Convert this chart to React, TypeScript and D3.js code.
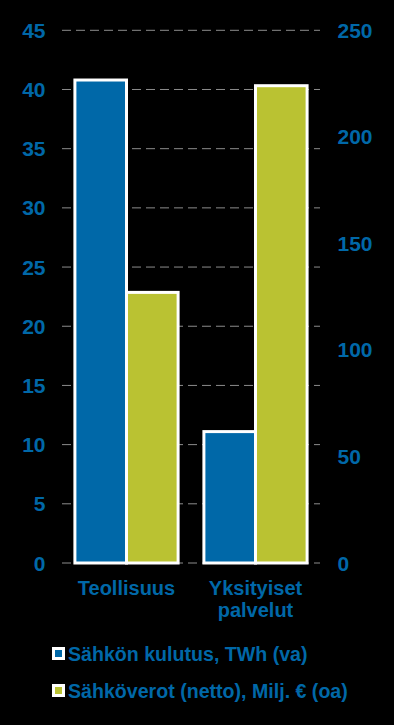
import * as d3 from 'd3';
import React, { useEffect, useRef } from 'react';

const categories = ['Teollisuus', 'Yksityiset palvelut'];
const categoryLines = [['Teollisuus'], ['Yksityiset', 'palvelut']];
const seriesNames = ['Sähkön kulutus, TWh (va)', 'Sähköverot (netto), Milj. € (oa)'];
const consumption = [40.8, 11.1]; // TWh, left axis
const taxes = [127, 224]; // Milj. €, right axis
const leftTicks = [0, 5, 10, 15, 20, 25, 30, 35, 40, 45];
const rightTicks = [0, 50, 100, 150, 200, 250];

const BLUE = '#0068a8';
const GREEN = '#bac232';

function App() {
  const node = useRef<SVGSVGElement | null>(null);

  useEffect(() => {
    const width = 394;
    const height = 725;
    const left = 62;
    const right = 320;
    const top = 30.3;
    const bottom = 563;
    const font = 'Liberation Sans, Arial, sans-serif';

    const svg = d3.select(node.current);
    svg.selectAll('*').remove();
    svg.attr('width', width).attr('height', height);

    svg.append('rect').attr('width', width).attr('height', height).attr('fill', '#000');

    const yLeft = d3.scaleLinear().domain([0, 45]).range([bottom, top]);
    const yRight = d3.scaleLinear().domain([0, 250]).range([bottom, top]);
    const x0 = d3.scaleBand().domain(categories).range([left, right]).paddingInner(0.2).paddingOuter(0.1);
    const x1 = d3.scaleBand().domain(['a', 'b']).range([0, x0.bandwidth()]);

    // gridlines
    svg
      .append('g')
      .selectAll('line')
      .data(leftTicks)
      .enter()
      .append('line')
      .attr('x1', left)
      .attr('x2', right)
      .attr('y1', (d) => yLeft(d))
      .attr('y2', (d) => yLeft(d))
      .attr('stroke', '#8c8c8c')
      .attr('stroke-width', 1)
      .attr('stroke-dasharray', '9,5');

    // bars
    const groups = svg
      .append('g')
      .selectAll('g')
      .data(categories)
      .enter()
      .append('g')
      .attr('transform', (d) => 'translate(' + x0(d) + ',0)');

    groups
      .append('rect')
      .attr('x', x1('a') as number)
      .attr('width', x1.bandwidth())
      .attr('y', (d, i) => yLeft(consumption[i]))
      .attr('height', (d, i) => bottom - yLeft(consumption[i]))
      .attr('fill', BLUE)
      .attr('stroke', '#fff')
      .attr('stroke-width', 3);

    groups
      .append('rect')
      .attr('x', x1('b') as number)
      .attr('width', x1.bandwidth())
      .attr('y', (d, i) => yRight(taxes[i]))
      .attr('height', (d, i) => bottom - yRight(taxes[i]))
      .attr('fill', GREEN)
      .attr('stroke', '#fff')
      .attr('stroke-width', 3);

    // left axis labels
    svg
      .append('g')
      .selectAll('text')
      .data(leftTicks)
      .enter()
      .append('text')
      .attr('x', 45.5)
      .attr('y', (d) => yLeft(d))
      .attr('dy', '0.36em')
      .attr('text-anchor', 'end')
      .attr('font-family', font)
      .attr('font-weight', 'bold')
      .attr('font-size', 21)
      .attr('fill', BLUE)
      .text((d) => d);

    // right axis labels
    svg
      .append('g')
      .selectAll('text')
      .data(rightTicks)
      .enter()
      .append('text')
      .attr('x', 337.5)
      .attr('y', (d) => yRight(d))
      .attr('dy', '0.36em')
      .attr('text-anchor', 'start')
      .attr('font-family', font)
      .attr('font-weight', 'bold')
      .attr('font-size', 21)
      .attr('fill', BLUE)
      .text((d) => d);

    // category labels
    const cat = svg
      .append('g')
      .selectAll('text')
      .data(categories)
      .enter()
      .append('text')
      .attr('x', (d) => (x0(d) as number) + x0.bandwidth() / 2)
      .attr('y', 595)
      .attr('text-anchor', 'middle')
      .attr('font-family', font)
      .attr('font-weight', 'bold')
      .attr('font-size', 20)
      .attr('fill', BLUE);
    cat
      .selectAll('tspan')
      .data((d, i) => categoryLines[i].map((t) => ({ t, x: (x0(d) as number) + x0.bandwidth() / 2 })))
      .enter()
      .append('tspan')
      .attr('x', (d) => d.x)
      .attr('dy', (d, i) => (i === 0 ? 0 : 22))
      .text((d) => d.t);

    // legend
    const legend = svg
      .append('g')
      .selectAll('g')
      .data(seriesNames)
      .enter()
      .append('g')
      .attr('transform', (d, i) => 'translate(52,' + (647 + i * 37) + ')');
    legend.append('rect').attr('width', 13).attr('height', 13).attr('fill', '#fff');
    legend
      .append('rect')
      .attr('x', 3)
      .attr('y', 3)
      .attr('width', 7)
      .attr('height', 7)
      .attr('fill', (d, i) => (i === 0 ? BLUE : GREEN));
    legend
      .append('text')
      .attr('x', 16)
      .attr('y', 14)
      .attr('font-family', font)
      .attr('font-weight', 'bold')
      .attr('font-size', 19.6)
      .attr('fill', BLUE)
      .text((d) => d);
  }, []);

  return <svg ref={node} style={{ position: 'absolute', left: 0, top: 0, display: 'block' }} />;
}

export default App;
